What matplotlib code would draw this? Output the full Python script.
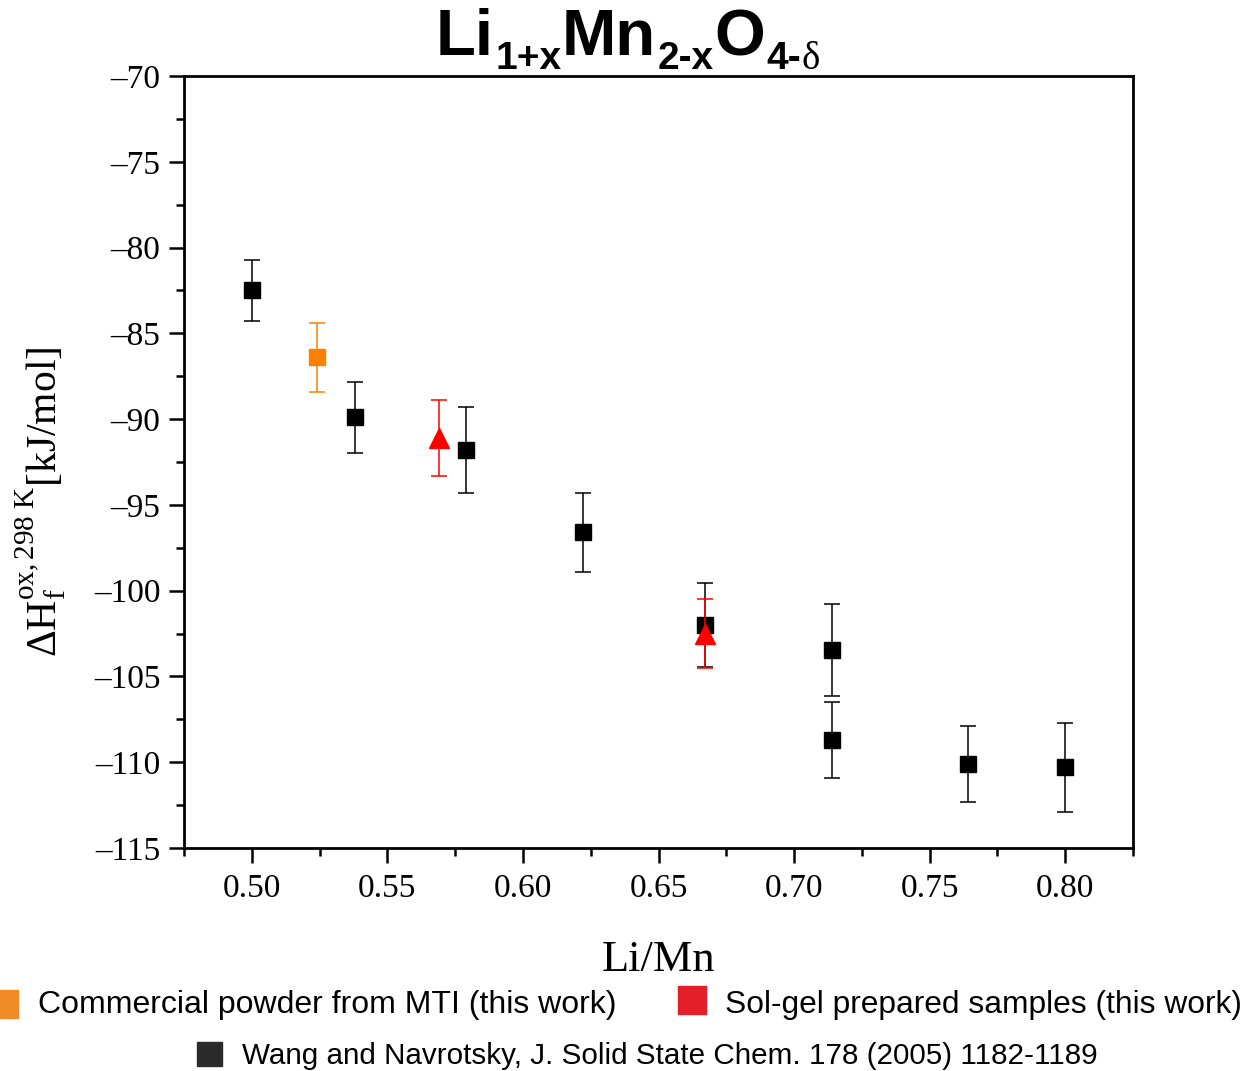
import numpy as np
import matplotlib
matplotlib.use('Agg')
import matplotlib.pyplot as plt

plt.rcParams['font.family'] = ['Liberation Serif', 'DejaVu Serif']
plt.rcParams['axes.unicode_minus'] = False
plt.rcParams['mathtext.fontset'] = 'custom'
plt.rcParams['mathtext.rm'] = 'Liberation Serif'
plt.rcParams['mathtext.it'] = 'Liberation Serif:italic'
plt.rcParams['mathtext.bf'] = 'Liberation Sans:bold'

# Wang and Navrotsky data
wang_x = [0.500, 0.538, 0.579, 0.622, 0.667, 0.714, 0.714, 0.764, 0.800]
wang_y = [-82.5, -89.9, -91.8, -96.6, -102.0, -103.45, -108.7, -110.1, -110.3]
wang_err = [1.8, 2.05, 2.5, 2.3, 2.45, 2.68, 2.2, 2.2, 2.6]

# commercial powder (MTI)
mti_x = [0.524]
mti_y = [-86.4]
mti_err = [2.0]

# sol-gel samples
solgel_x = [0.569, 0.667]
solgel_y = [-91.1, -102.5]
solgel_err = [2.2, 2.0]

yticks = [-115, -110, -105, -100, -95, -90, -85, -80, -75, -70]
xticks = [0.50, 0.55, 0.60, 0.65, 0.70, 0.75, 0.80]

legend_labels = ['Commercial powder from MTI (this work)',
                 'Sol-gel prepared samples (this work)',
                 'Wang and Navrotsky, J. Solid State Chem. 178 (2005) 1182-1189']
legend_colors = ['#F08A24', '#E3202A', '#2B2B2B']

fig = plt.figure(figsize=(12.46, 10.71), dpi=100)
ax = fig.add_axes([0.1477, 0.2082, 0.7616, 0.7208])

ax.errorbar(wang_x, wang_y, yerr=wang_err, fmt='s', color='black', ms=11.5,
            capsize=5.5, elinewidth=1.1, capthick=1.1, zorder=3)
ax.errorbar(mti_x, mti_y, yerr=mti_err, fmt='s', color='#FF8000', ms=11.5,
            capsize=5.5, elinewidth=1.1, capthick=1.1, zorder=4)
ax.errorbar(solgel_x, solgel_y, yerr=solgel_err, fmt='^', color='red', ms=15,
            capsize=5.5, elinewidth=1.1, capthick=1.1, zorder=5)

ax.set_xlim(0.4753, 0.825)
ax.set_ylim(-115, -70)
ax.set_xticks(xticks)
ax.set_xticks(np.arange(0.475, 0.826, 0.025), minor=True)
ax.set_xticklabels(['%.2f' % v for v in xticks])
ax.set_yticks(yticks)
ax.set_yticklabels(['\u2013%d' % abs(v) for v in yticks])
ax.set_yticks(np.arange(-112.5, -70, 5), minor=True)
ax.tick_params(which='major', direction='out', length=11, width=1.8, labelsize=24)
ax.tick_params(which='minor', direction='out', length=6, width=1.8)
ax.tick_params(axis='x', which='major', pad=7)
ax.tick_params(axis='y', which='major', pad=6)
for s in ax.spines.values():
    s.set_linewidth(2)

ax.set_xlabel('Li/Mn', fontsize=32, labelpad=26)
ax.set_ylabel(r'$\Delta\mathrm{H}_{\mathrm{f}}^{\mathrm{ox,298\ K}}$[kJ/mol]', fontsize=30)
ax.yaxis.set_label_coords(-0.122, 0.448)

# title built piece by piece (big / subscript)
pieces = [('Li', 47, 0), ('1+x', 28, -14), ('Mn', 47, 0), ('2-x', 28, -14),
          ('O', 47, 0), ('4-', 28, -14), ('\u03b4', 28, -14)]
fig.canvas.draw()
r = fig.canvas.get_renderer()
x0 = 436
base = 1071 - 55
for txt, size, dy in pieces:
    serif = txt == '\u03b4'
    t = fig.text(x0 / 1246, (base + dy) / 1071, txt, fontsize=size,
                 fontweight='normal' if serif else 'bold',
                 family=['Liberation Serif'] if serif else ['Liberation Sans'],
                 ha='left', va='baseline')
    bb = t.get_window_extent(r)
    x0 = bb.x1 + 1

# legend
sq = [(0, 990, 18, 28), (678, 986, 28, 28), (197, 1042, 25, 24)]
for (lx, ly, w, h), c in zip(sq, legend_colors):
    fig.patches.append(plt.Rectangle((lx / 1246, 1 - (ly + h) / 1071), w / 1246, h / 1071,
                                     transform=fig.transFigure, color=c))
txt_pos = [(38, 1005, 23), (725, 1005, 22.9), (242, 1056, 21.3)]
for (tx, ty, fs), lab in zip(txt_pos, legend_labels):
    fig.text(tx / 1246, 1 - ty / 1071, lab, fontsize=fs, ha='left', va='center',
             family=['Liberation Sans'])

fig.savefig('out.png', dpi=100)
